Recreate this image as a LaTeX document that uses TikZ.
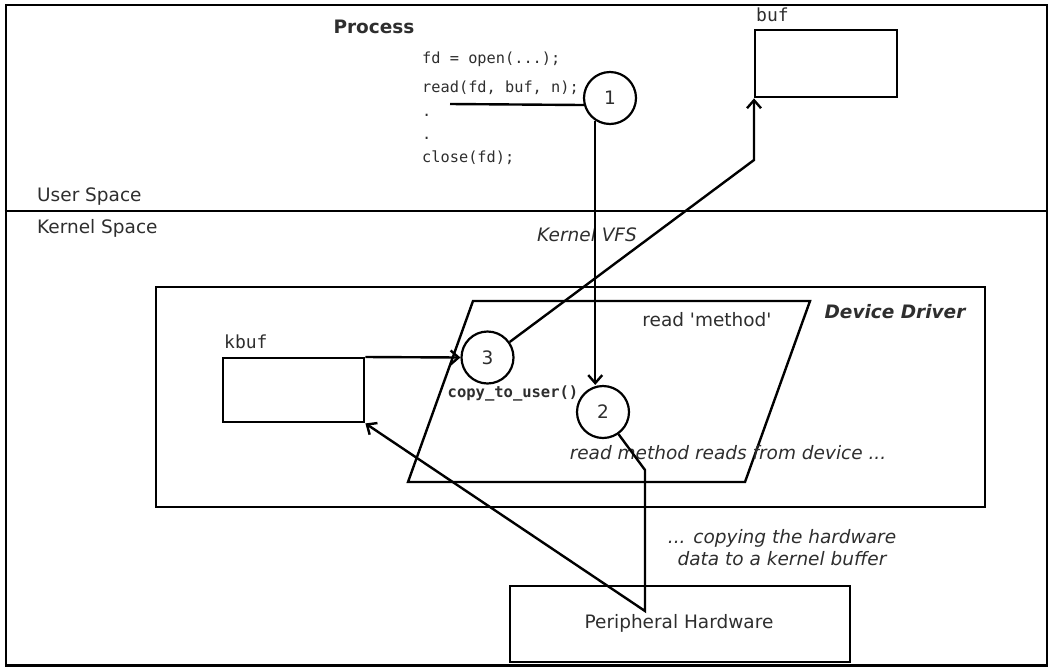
\documentclass[tikz,border=0pt]{standalone}
\usepackage{fontspec}
\setmainfont{DejaVu Sans}
\setsansfont{DejaVu Sans}
\setmonofont{DejaVu Sans Mono}
\usetikzlibrary{arrows.meta}
\definecolor{txtc}{HTML}{2E2E2E}
\newcommand{\mysz}{\fontsize{18.5}{22}\selectfont}
\newcommand{\mycode}{\fontsize{15.3}{18}\selectfont\ttfamily}
\newcommand{\mylab}{\fontsize{18}{21}\selectfont\ttfamily}
\tikzset{
  ln/.style={line width=2.4pt},
  arr/.style={ln,-{Straight Barb[length=8pt,width=14pt,line width=2.4pt]}},
  circ/.style={circle,draw,line width=2.2pt,minimum size=52pt,inner sep=0pt,text=txtc,font=\mysz},
  boxn/.style={draw,line width=2.4pt,inner sep=0pt,anchor=north west},
  txt/.style={inner sep=0pt,text=txtc,font=\mysz},
  ital/.style={inner sep=0pt,text=txtc,font=\mysz\itshape},
  code/.style={inner sep=0pt,text=txtc,font=\mycode,anchor=base west},
  lab/.style={inner sep=0pt,text=txtc,font=\mylab,anchor=west},
}
\begin{document}
\begin{tikzpicture}[x=1pt,y=-1pt]
\useasboundingbox (0,0) rectangle (1051,670);
% outer frame and separator
\node[boxn,line width=2.8pt,minimum width=1041pt,minimum height=660.5pt] (frame) at (4.5,3.5) {};
\coordinate (sepl) at (4.5,211);
\coordinate (sepr) at (1045.5,211);
\draw[ln] (sepl) -- (sepr);
\node[txt,anchor=west] (us) at (37,197) {User Space};
\node[txt,anchor=west] (ks) at (37,228) {Kernel Space};

% process
\node[txt,font=\mysz\bfseries] (proc) at (374,27) {Process};
\node[code] (l1) at (422,63) {fd = open(...);};
\node[code] (l2) at (422,92) {read(fd, buf, n);};
\node[code] (l3) at (422,116) {.};
\node[code] (l4) at (422,139) {.};
\node[code] (l5) at (422,162) {close(fd);};

\node[circ] (c1) at (610,98) {1};
\coordinate (rl) at (450,104);
\draw[ln] (rl) -- (c1.195);

% buf
\node[lab] (buflab) at (756,15) {buf};
\node[boxn,minimum width=142pt,minimum height=67pt] (buf) at (754,29) {};

% kernel
\node[ital] (vfs) at (587,235) {Kernel VFS};
\node[boxn,minimum width=829pt,minimum height=220pt] (dd) at (155,286) {};
\node[txt,font=\mysz\bfseries\itshape] (ddl) at (895,312) {Device Driver};
\coordinate (p1) at (473,301);
\coordinate (p2) at (810,301);
\coordinate (p3) at (745,482);
\coordinate (p4) at (408,482);
\draw[ln] (p1) -- (p2) -- (p3) -- (p4) -- cycle;
\node[txt] (rm) at (707,320) {read \textquotesingle method\textquotesingle};

\node[lab] (kbuflab) at (224,342) {kbuf};
\node[boxn,minimum width=141pt,minimum height=64pt] (kbuf) at (222,357) {};

\node[circ,fill=white] (c3) at (487.5,357.5) {3};
\node[circ,fill=white] (c2) at (603,412) {2};
\node[inner sep=0pt,text=txtc,font=\fontsize{15.5}{18}\selectfont\ttfamily\bfseries] (ctu) at (513,393) {copy\_to\_user()};
\node[ital] (rmr) at (728,453) {read method reads from device ...};

\node[boxn,minimum width=340pt,minimum height=76pt] (ph) at (509,585) {};
\node[txt] (phl) at (679,623) {Peripheral Hardware};
\node[ital,align=center] (cp) at (782,548) {... copying the hardware\\data to a kernel buffer};

% connectors
\draw[arr] (c1.237) -- (c1.237 |- c2.north);
\coordinate (j1) at (754,160);
\draw[arr] (c3.35) -- (j1) -- (buf.south west);
\draw[arr] (kbuf.north east) -- (c3.west);
\coordinate (j2) at (645,470);
\coordinate (j3) at (645,611);
\draw[arr] (c2.-55) -- (j2) -- (j3) -- (kbuf.south east);
\end{tikzpicture}
\end{document}
